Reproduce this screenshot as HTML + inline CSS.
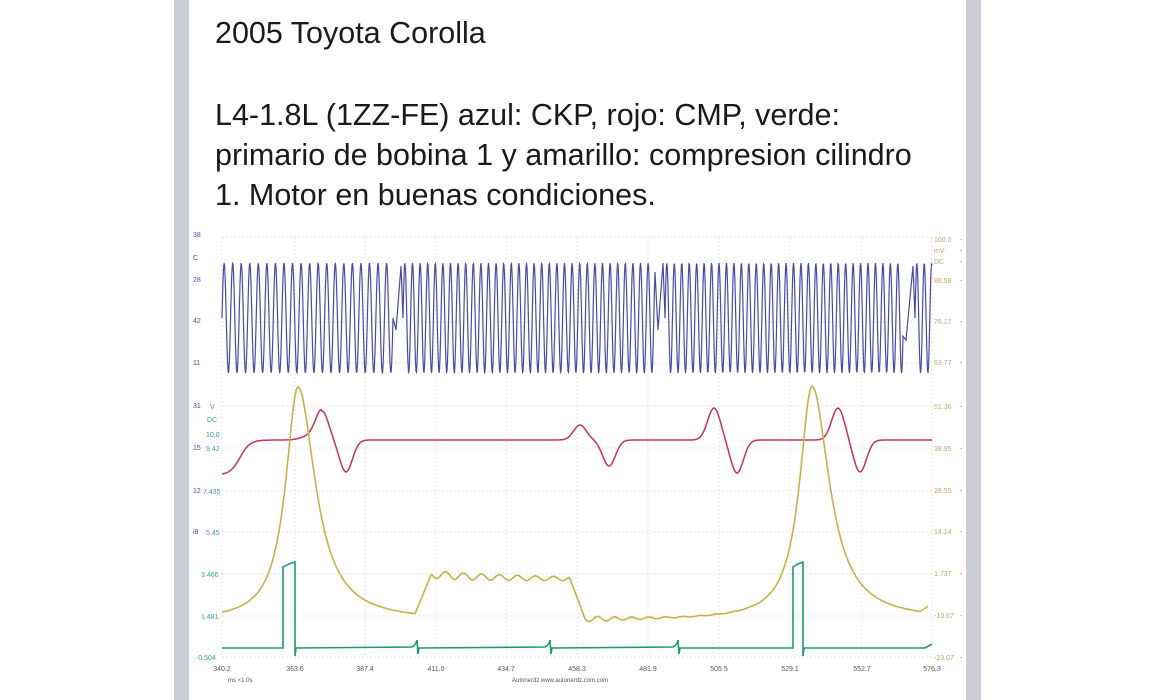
<!DOCTYPE html>
<html><head><meta charset="utf-8"><style>
html,body{margin:0;padding:0;background:#fff;width:1156px;height:700px;overflow:hidden;position:relative;font-family:"Liberation Sans",sans-serif}
.bar{position:absolute;top:0;height:700px;background:#c9cdd3}
.t{position:absolute;left:215px;color:#1a1a1a;font-size:30.5px;line-height:40px;white-space:nowrap}
</style></head><body>
<div class="bar" style="left:174px;width:15px"></div>
<div class="bar" style="left:966px;width:15px"></div>
<div class="t" style="top:13px">2005 Toyota Corolla</div>
<div class="t" style="top:95px">L4-1.8L (1ZZ-FE) azul: CKP, rojo: CMP, verde:</div>
<div class="t" style="top:135px">primario de bobina 1 y amarillo: compresion cilindro</div>
<div class="t" style="top:175px">1. Motor en buenas condiciones.</div>
<svg id="s" width="1156" height="700" style="position:absolute;left:0;top:0" font-family="Liberation Sans, sans-serif">
<g id="grid" stroke="#e4e6ea" stroke-width="1" stroke-dasharray="2,2"></g>
<g id="lbl" font-size="7"></g>
<path id="blue" fill="none" stroke="#4a4aa6" stroke-width="1.2"/>
<path id="red" fill="none" stroke="#c8325a" stroke-width="1.5"/>
<path id="yel" fill="none" stroke="#c9b04a" stroke-width="1.6"/>
<path id="grn" fill="none" stroke="#1f9a6e" stroke-width="1.6"/>
<text x="228" y="682" font-size="6" fill="#555">ms    ×1.0s</text>
<text x="512" y="682" font-size="6" fill="#555">Autonerdz   www.autonerdz.com.com</text>
</svg>
<script>
var ys=[237,280,322,363,406,448,491,532,574,616,657];
var xs=[222,295,365,436,506,577,648,719,790,862,932];
var xl=["340.2","363.6","387.4","411.0","434.7","458.3","481.9","505.5","529.1","552.7","576.3"];
var g=document.getElementById('grid'),l=document.getElementById('lbl'),h='',t='';
ys.forEach(function(y){h+='<line x1="222" x2="932" y1="'+y+'" y2="'+y+'"/>';});
xs.forEach(function(x,i){h+='<line y1="237" y2="657" x1="'+x+'" x2="'+x+'"/>';t+='<text x="'+x+'" y="671" text-anchor="middle" fill="#555">'+xl[i]+'</text>';});
g.innerHTML=h;
var L=[["38",237,"#4a4aa6",193],["C",260,"#4a4aa6",193],["28",282,"#4a4aa6",193],["42",323,"#4a4aa6",193],["11",365,"#4a4aa6",193],["31",408,"#4a4aa6",193],["15",450,"#4a4aa6",193],["12",493,"#4a4aa6",193],["i8",534,"#4a4aa6",193],
["V",409,"#3a9a9a",210],["DC",422,"#3a9a9a",207],["10.0",437,"#3a9a9a",206],["9.42",451,"#3a9a9a",206],["7.435",494,"#3a9a9a",203],["5.45",535,"#3a9a9a",206],["3.466",577,"#3a9a9a",201],["1.481",619,"#3a9a9a",201],["-0.504",660,"#3a9a9a",196]];
L.forEach(function(a){t+='<text x="'+a[3]+'" y="'+a[1]+'" fill="'+a[2]+'">'+a[0]+'</text>';});
var R=[["100.0",242],["mV",253],["DC",264],["88.58",283],["76.17",324],["63.77",365],["51.36",409],["38.95",451],["26.55",493],["14.14",534],["1.737",576],["-10.67",618],["-23.07",660]];
R.forEach(function(a){t+='<text x="934" y="'+a[1]+'" fill="#c8a070">'+a[0]+'</text><text x="960" y="'+a[1]+'" fill="#c86060">-</text>';});
l.innerHTML=t;
var d='',first=true;
function P(x,y){d+=(first?'M':'L')+x.toFixed(1)+' '+y.toFixed(1)+' ';first=false;}
function teeth(x0,x1,per){for(var x=x0;x<=x1;x+=0.5){var ph=((x-x0)/per)%1;var y=318-55*Math.sin(ph*2*Math.PI);P(x,y);}}
teeth(222,393,8.55);P(396,330);P(401,266);teeth(403,655,7.6);P(658,330);P(663,263);teeth(665,903,7.45);P(906,340);P(913,266);teeth(915,932,7.4);
document.getElementById('blue').setAttribute('d',d);
d='';first=true;
function bump(x,pc,pa,tc,ta,w){return pa*Math.exp(-Math.pow((x-pc)/w,2))+ta*Math.exp(-Math.pow((x-tc)/w,2));}
for(var x=222;x<=932;x+=1){var y=440+35/(1+Math.exp((x-240)/5));
y+=bump(x,322,-29,346,32,9)+bump(x,580,-15,609,26,9)+bump(x,714,-32,737,33,9)+bump(x,838,-32,860,32,9);
y+= (x<322&&x>280)? -4*Math.exp(-Math.pow((x-310)/12,2)):0;
P(x,y);}
document.getElementById('red').setAttribute('d',d);
d='';first=true;
for(var x=222;x<=928;x+=1){
var pk=function(c){var dx=x-c;return 234/(1+Math.pow(dx/(dx<0?15:21),2));};
var base;
if(x<415){base=621;}else if(x<432){base=621-43*(x-415)/17;}else if(x<570){base=580+4*Math.sin((x-432)/18*2*Math.PI)*Math.exp(-(x-432)/200);}else if(x<585){base=580+40*(x-570)/15;}else{base=620+3*Math.sin((x-585)/17*2*Math.PI)*Math.exp(-(x-585)/60);}
var p=Math.max(pk(298),pk(812));
var y=base-p;
if(x>920)y-=(x-920)*0.8;
P(x,y);}
document.getElementById('yel').setAttribute('d',d);
d='M222 648 L283 648 L283 567 L289 564 L295 562 L295 656 L296 648 L412 647 Q416 645 417 640 L418 654 L419 648 L545 647 Q549 645 550 640 L551 654 L552 648 L673 647 Q677 645 678 640 L679 654 L680 648 L793 648 L793 567 L798 564 L803 562 L803 656 L804 648 L925 648 L932 644';
document.getElementById('grn').setAttribute('d',d);
</script>
</body></html>
